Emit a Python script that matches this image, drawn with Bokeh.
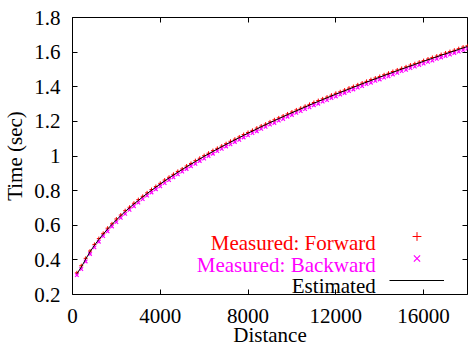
from bokeh.plotting import figure
from bokeh.models import (LinearAxis, Range1d, Label, Legend, LegendItem,
                          FixedTicker, ColumnDataSource)
from bokeh.embed import file_html
from bokeh.resources import INLINE

# ---- data ----
distance = [200, 400, 600, 800, 1000, 1200, 1400, 1600, 1800, 2000,
            2200, 2400, 2600, 2800, 3000, 3200, 3400, 3600, 3800, 4000,
            4200, 4400, 4600, 4800, 5000, 5200, 5400, 5600, 5800, 6000,
            6200, 6400, 6600, 6800, 7000, 7200, 7400, 7600, 7800, 8000,
            8200, 8400, 8600, 8800, 9000, 9200, 9400, 9600, 9800, 10000,
            10200, 10400, 10600, 10800, 11000, 11200, 11400, 11600, 11800, 12000,
            12200, 12400, 12600, 12800, 13000, 13200, 13400, 13600, 13800, 14000,
            14200, 14400, 14600, 14800, 15000, 15200, 15400, 15600, 15800, 16000,
            16200, 16400, 16600, 16800, 17000, 17200, 17400, 17600, 17800, 18000]

estimated = [0.320, 0.358, 0.404, 0.447, 0.484, 0.518, 0.549, 0.578, 0.605, 0.631,
             0.655, 0.679, 0.701, 0.723, 0.743, 0.764, 0.783, 0.802, 0.820, 0.838,
             0.856, 0.873, 0.890, 0.906, 0.922, 0.938, 0.953, 0.968, 0.983, 0.998,
             1.012, 1.026, 1.040, 1.054, 1.067, 1.080, 1.093, 1.106, 1.119, 1.132,
             1.144, 1.156, 1.169, 1.181, 1.193, 1.204, 1.216, 1.227, 1.239, 1.250,
             1.261, 1.272, 1.283, 1.294, 1.305, 1.315, 1.326, 1.336, 1.347, 1.357,
             1.367, 1.377, 1.387, 1.397, 1.407, 1.417, 1.427, 1.436, 1.446, 1.455,
             1.465, 1.474, 1.483, 1.493, 1.502, 1.511, 1.520, 1.529, 1.538, 1.547,
             1.556, 1.564, 1.573, 1.582, 1.590, 1.599, 1.607, 1.616, 1.624, 1.633]

forward = [0.325, 0.366, 0.409, 0.451, 0.489, 0.523, 0.553, 0.583, 0.608, 0.636,
           0.659, 0.684, 0.704, 0.727, 0.748, 0.767, 0.787, 0.806, 0.824, 0.842,
           0.861, 0.877, 0.894, 0.911, 0.925, 0.942, 0.957, 0.973, 0.987, 1.002,
           1.016, 1.031, 1.044, 1.057, 1.071, 1.085, 1.097, 1.110, 1.124, 1.136,
           1.148, 1.161, 1.173, 1.184, 1.197, 1.209, 1.220, 1.231, 1.243, 1.254,
           1.266, 1.276, 1.287, 1.298, 1.309, 1.320, 1.330, 1.340, 1.351, 1.362,
           1.371, 1.381, 1.392, 1.401, 1.411, 1.421, 1.431, 1.441, 1.450, 1.459,
           1.469, 1.478, 1.488, 1.497, 1.506, 1.515, 1.525, 1.533, 1.542, 1.551,
           1.560, 1.569, 1.577, 1.586, 1.595, 1.603, 1.611, 1.620, 1.629, 1.637]

backward = [0.312, 0.347, 0.391, 0.434, 0.472, 0.505, 0.537, 0.565, 0.593, 0.618,
            0.643, 0.666, 0.689, 0.710, 0.731, 0.751, 0.771, 0.789, 0.808, 0.825,
            0.843, 0.861, 0.877, 0.894, 0.910, 0.925, 0.941, 0.955, 0.971, 0.985,
            1.000, 1.013, 1.028, 1.041, 1.055, 1.067, 1.081, 1.093, 1.107, 1.119,
            1.132, 1.143, 1.157, 1.168, 1.181, 1.191, 1.204, 1.214, 1.227, 1.237,
            1.249, 1.259, 1.271, 1.281, 1.293, 1.302, 1.314, 1.323, 1.335, 1.344,
            1.355, 1.364, 1.375, 1.384, 1.395, 1.404, 1.415, 1.423, 1.434, 1.442,
            1.453, 1.461, 1.471, 1.480, 1.490, 1.498, 1.508, 1.516, 1.526, 1.534,
            1.544, 1.551, 1.561, 1.569, 1.578, 1.586, 1.595, 1.603, 1.612, 1.620]

x_ticks = [0, 4000, 8000, 12000, 16000]
y_ticks = [0.2, 0.4, 0.6, 0.8, 1.0, 1.2, 1.4, 1.6, 1.8]
legend_labels = ["Measured: Forward", "Measured: Backward", "Estimated"]

FONT = "Liberation Serif"
FS = "21px"

src = ColumnDataSource(dict(d=distance, est=estimated, fw=forward, bw=backward))

p = figure(width=468, height=349, output_backend="svg", toolbar_location=None,
           x_range=Range1d(0, 18000), y_range=Range1d(0.2, 1.8),
           min_border_left=71, min_border_right=1, min_border_top=17,
           min_border_bottom=54, background_fill_color="white",
           border_fill_color="white")

p.xgrid.visible = False
p.ygrid.visible = False
p.outline_line_color = "black"
p.outline_line_width = 1
p.outline_line_alpha = 1

r_fw = p.scatter("d", "fw", source=src, marker="cross", size=4,
                 line_color="red", line_width=1)
r_bw = p.scatter("d", "bw", source=src, marker="x", size=5,
                 line_color="magenta", line_width=1.2)
r_est = p.line("d", "est", source=src, line_color="black", line_width=1)

xa = p.xaxis[0]
ya = p.yaxis[0]
xa.ticker = FixedTicker(ticks=x_ticks)
ya.ticker = FixedTicker(ticks=y_ticks)
for ax in (xa, ya):
    ax.axis_line_color = None
    ax.major_tick_in = 5
    ax.major_tick_out = 0
    ax.minor_tick_line_color = None
    ax.major_label_text_font = FONT
    ax.major_label_text_font_size = FS
    ax.major_label_text_color = "black"
    ax.axis_label_text_font = FONT
    ax.axis_label_text_font_size = FS
    ax.axis_label_text_font_style = "normal"
    ax.axis_label_text_color = "black"
xa.axis_label = "Distance"
ya.axis_label = "Time (sec)"
xa.major_label_standoff = 14
xa.axis_label_standoff = -3
ya.major_label_standoff = 12
ya.axis_label_standoff = 4

top = LinearAxis(ticker=FixedTicker(ticks=x_ticks))
right = LinearAxis(ticker=FixedTicker(ticks=y_ticks))
top.major_label_overrides = {t: "" for t in x_ticks}
right.major_label_overrides = {t: "" for t in y_ticks}
for ax in (top, right):
    ax.axis_line_color = None
    ax.major_tick_in = 5
    ax.major_tick_out = 0
    ax.minor_tick_line_color = None
    ax.major_label_standoff = 0
p.add_layout(top, "above")
p.add_layout(right, "right")

# legend: texts right-aligned, samples to their right (gnuplot style)
label_colors = ["red", "magenta", "black"]
label_y = [0.499, 0.373, 0.248]
for txt, col, yy in zip(legend_labels, label_colors, label_y):
    p.add_layout(Label(x=13820, y=yy, text=txt, text_align="right",
                       text_baseline="alphabetic", text_font=FONT,
                       text_font_size=FS, text_color=col))

leg = Legend(items=[LegendItem(label=" ", renderers=[r_fw]),
                    LegendItem(label=" ", renderers=[r_bw]),
                    LegendItem(label=" ", renderers=[r_est])],
             location=(317, 3), glyph_width=55, glyph_height=22,
             label_height=22, label_width=1, label_standoff=0, spacing=0,
             padding=0, margin=0, border_line_color=None,
             background_fill_alpha=0, label_text_font_size="1px")
p.add_layout(leg, "center")

open("out.html", "w").write(file_html(p, INLINE))
